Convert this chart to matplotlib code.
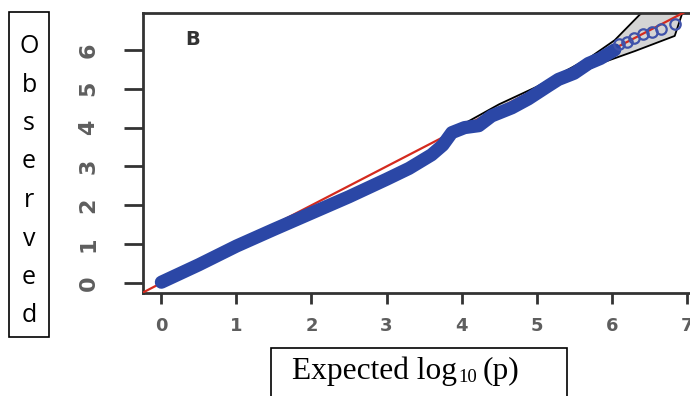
import matplotlib
matplotlib.use("Agg")
import matplotlib.pyplot as plt
import matplotlib.patches as patches

# expected vs observed -log10(p)
exp_dense = [0.0, 0.5, 1.0, 1.5, 2.0, 2.5, 3.0, 3.3, 3.6, 3.75, 3.87, 4.04, 4.23,
             4.4, 4.67, 4.89, 5.16, 5.29, 5.5, 5.69, 5.85, 6.04]
obs_dense = [0.02, 0.47, 0.95, 1.38, 1.8, 2.22, 2.67, 2.95, 3.3, 3.55, 3.87, 4.0, 4.05,
             4.3, 4.51, 4.74, 5.08, 5.24, 5.4, 5.65, 5.78, 6.0]
exp_tail = [6.1, 6.2, 6.3, 6.42, 6.54, 6.66, 6.84]
obs_tail = [6.14, 6.2, 6.3, 6.4, 6.46, 6.55, 6.66]

# confidence band
band_lo_x = [3.8, 4.5, 5.0, 5.4, 5.83, 6.31, 6.84, 6.95]
band_lo_y = [3.75, 4.4, 4.85, 5.2, 5.64, 5.97, 6.36, 7.0]
band_up_x = [3.8, 4.5, 5.0, 5.33, 5.69, 6.04, 6.37, 6.84, 7.05]
band_up_y = [3.85, 4.6, 5.05, 5.4, 5.78, 6.25, 6.9, 7.7, 8.0]

xticks = [0, 1, 2, 3, 4, 5, 6, 7]
yticks = [0, 1, 2, 3, 4, 5, 6]

W, H = 690, 396
fig = plt.figure(figsize=(W / 100, H / 100), dpi=100)
ax = fig.add_axes([143 / W, (H - 293) / H, (710 - 143) / W, (293 - 13) / H])
ax.set_xlim(-0.245, 7.31)
ax.set_ylim(-0.258, 6.95)

ax.fill(band_lo_x + band_up_x[::-1], band_lo_y + band_up_y[::-1],
        color="#d4d4d4", zorder=1, lw=0)
ax.plot(band_lo_x, band_lo_y, color="black", lw=1.3, zorder=2)
ax.plot(band_up_x, band_up_y, color="black", lw=1.3, zorder=2)
ax.plot([-1, 9], [-1, 9], color="#d42a1e", lw=1.6, zorder=3)
ax.plot(exp_dense, obs_dense, color="#2b47a6", lw=9.5, solid_capstyle="round",
        solid_joinstyle="round", zorder=4)
ax.plot(exp_tail, obs_tail, "o", ms=7.5, mfc="none", mec="#3f52aa", mew=1.6, zorder=5)

ax.text(0.41, 6.28, "B", fontsize=14, fontweight="bold", color="#333333",
        family="DejaVu Sans", ha="center", va="center")

for s in ["left", "top", "bottom"]:
    ax.spines[s].set_linewidth(2)
    ax.spines[s].set_color("#333333")
ax.spines["right"].set_visible(False)

ax.set_xticks(xticks)
ax.set_yticks(yticks)
ax.tick_params(axis="x", length=8, width=2, color="#333333", pad=9,
               labelsize=13, labelcolor="#5e5e5e")
ax.tick_params(axis="y", length=14, width=2, color="#333333", pad=18,
               labelsize=16, labelcolor="#5e5e5e")
for lab in ax.get_xticklabels() + ax.get_yticklabels():
    lab.set_family("DejaVu Sans")
    lab.set_fontweight("bold")
for lab in ax.get_yticklabels():
    lab.set_rotation(90)
    lab.set_va("center")
ax.xaxis.get_major_ticks()[0].tick1line.set_color("#b0b0b0")

# y label box with stacked letters
fig.patches.append(patches.Rectangle((9 / W, (H - 337) / H), 40 / W, 325 / H,
                                     transform=fig.transFigure, fill=False,
                                     ec="black", lw=1.2))
for i, ch in enumerate("Observed"):
    fig.text(29 / W, (H - (53 + i * 38.5)) / H, ch, fontsize=18,
             family="Open Sans", ha="center", va="baseline")

# x label box
fig.patches.append(patches.Rectangle((271 / W, -20 / H), 296 / W, (H - 348 + 20) / H,
                                     transform=fig.transFigure, fill=False,
                                     ec="black", lw=1.2))
t1 = fig.text(292 / W, (H - 379) / H, "Expected log", fontsize=22.6,
              family="Liberation Serif", ha="left", va="baseline")
t2 = plt.annotate("10", xy=(1, 0), xycoords=t1, xytext=(0.7, 0),
                  textcoords="offset points", fontsize=13.5, family="Liberation Serif",
                  ha="left", va="bottom", annotation_clip=False)
plt.annotate("(p)", xy=(1, 0), xycoords=t2, xytext=(4.5, 0),
             textcoords="offset points", fontsize=22.6, family="Liberation Serif",
             ha="left", va="bottom", annotation_clip=False)

fig.savefig("out.png", dpi=100)
